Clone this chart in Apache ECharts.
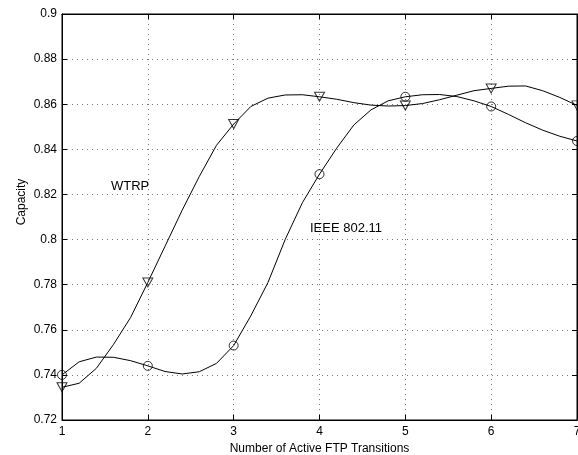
<!DOCTYPE html>
<html>
<head>
<meta charset="utf-8">
<script src="https://cdn.jsdelivr.net/npm/echarts@6/dist/echarts.min.js"></script>
<style>
  html, body { margin: 0; padding: 0; background: #fff; }
  #chart { width: 578px; height: 455px; }
</style>
</head>
<body>
<div id="chart"></div>
<script>
  // measured points (markers)
  var nodes = [1, 2, 3, 4, 5, 6, 7];
  var wtrpVals = [0.7345, 0.781, 0.8512, 0.8633, 0.8594, 0.867, 0.8595];
  var ieeeVals = [0.740, 0.744, 0.753, 0.829, 0.8633, 0.859, 0.8437];

  // fitted curves, every 0.2
  var curveX = [1.0, 1.2, 1.4, 1.6, 1.8, 2.0, 2.2, 2.4, 2.6, 2.8, 3.0, 3.2, 3.4, 3.6, 3.8, 4.0,
                4.2, 4.4, 4.6, 4.8, 5.0, 5.2, 5.4, 5.6, 5.8, 6.0, 6.2, 6.4, 6.6, 6.8, 7.0];
  var wtrpCurve = [0.7345, 0.7363, 0.7429, 0.7535, 0.7655, 0.7810, 0.7970, 0.8130, 0.8280, 0.8418, 0.8512,
                   0.8590, 0.8627, 0.8641, 0.8642, 0.8633, 0.8622, 0.8607, 0.8596, 0.8592, 0.8594,
                   0.8603, 0.8620, 0.8640, 0.8660, 0.8670, 0.8680, 0.8681, 0.8660, 0.8630, 0.8595];
  var ieeeCurve = [0.7400, 0.7458, 0.7479, 0.7478, 0.7463, 0.7440, 0.7415, 0.7404, 0.7414, 0.7451, 0.7530,
                   0.7662, 0.7810, 0.8000, 0.8163, 0.8290, 0.8405, 0.8508, 0.8575, 0.8615, 0.8633,
                   0.8642, 0.8643, 0.8634, 0.8615, 0.8590, 0.8555, 0.8518, 0.8485, 0.8458, 0.8437];

  function pairs(xs, ys) {
    return xs.map(function (x, i) { return [x, ys[i]]; });
  }

  var font = "'Liberation Sans', Arial, sans-serif";
  var dotted = { color: '#777', width: 1, type: [1, 4] };

  var chart = echarts.init(document.getElementById('chart'));
  var option = {
    animation: false,
    backgroundColor: '#fff',
    textStyle: { fontFamily: font },
    grid: { left: 62, right: 1, top: 14, bottom: 35, outerBoundsMode: 'none', containLabel: false,
            show: true, borderColor: '#000', borderWidth: 1 },
    xAxis: [{
      type: 'value', min: 1, max: 7, interval: 1,
      name: 'Number of Active FTP Transitions', nameLocation: 'middle', nameGap: 20,
      nameTextStyle: { color: '#000', fontSize: 12, fontFamily: font },
      axisLine: { lineStyle: { color: '#000', width: 1 } },
      axisTick: { inside: true, length: 5, lineStyle: { color: '#000' } },
      axisLabel: { color: '#000', fontSize: 12, margin: 6, fontFamily: font },
      splitLine: { show: true, lineStyle: dotted }
    }, {
      type: 'value', min: 1, max: 7, interval: 1, position: 'top',
      axisLine: { lineStyle: { color: '#000' } },
      axisTick: { inside: true, length: 5, lineStyle: { color: '#000' } },
      axisLabel: { show: false }, splitLine: { show: false }
    }],
    yAxis: [{
      type: 'value', min: 0.72, max: 0.9, interval: 0.02,
      axisLine: { show: true, lineStyle: { color: '#000', width: 1 } },
      axisTick: { show: true, inside: true, length: 5, lineStyle: { color: '#000' } },
      axisLabel: { color: '#000', fontSize: 12, margin: 5, fontFamily: font },
      splitLine: { show: true, lineStyle: dotted }
    }, {
      type: 'value', min: 0.72, max: 0.9, interval: 0.02, position: 'right',
      axisLine: { show: true, lineStyle: { color: '#000' } },
      axisTick: { show: true, inside: true, length: 5, lineStyle: { color: '#000' } },
      axisLabel: { show: false }, splitLine: { show: false }
    }],
    series: [
      {
        name: 'WTRP curve', type: 'line', data: pairs(curveX, wtrpCurve),
        showSymbol: false, symbol: 'none', lineStyle: { color: '#000', width: 1 }, z: 3
      },
      {
        name: 'IEEE 802.11 curve', type: 'line', data: pairs(curveX, ieeeCurve),
        showSymbol: false, symbol: 'none', lineStyle: { color: '#000', width: 1 }, z: 3
      },
      {
        name: 'WTRP', type: 'scatter', data: pairs(nodes, wtrpVals), clip: false,
        symbol: 'triangle', symbolRotate: 180, symbolSize: [10, 9],
        itemStyle: { color: 'rgba(0,0,0,0)', borderColor: '#000', borderWidth: 1 }, z: 4
      },
      {
        name: 'IEEE 802.11', type: 'scatter', data: pairs(nodes, ieeeVals), clip: false,
        symbol: 'circle', symbolSize: 9,
        itemStyle: { color: 'rgba(0,0,0,0)', borderColor: '#000', borderWidth: 1 }, z: 4
      }
    ],
    graphic: [
      // y axis title
      { type: 'text', x: 22, y: 202, rotation: Math.PI / 2,
        style: { text: 'Capacity', fontSize: 12, fontFamily: font, fill: '#000', align: 'center', verticalAlign: 'middle' } },
      { type: 'text', left: 111, top: 180, style: { text: 'WTRP', fontSize: 13, fontFamily: font, fill: '#000' } },
      { type: 'text', left: 310, top: 222, style: { text: 'IEEE 802.11', fontSize: 13, fontFamily: font, fill: '#000' } }
    ]
  };
  option && chart.setOption(option);
</script>
</body>
</html>
